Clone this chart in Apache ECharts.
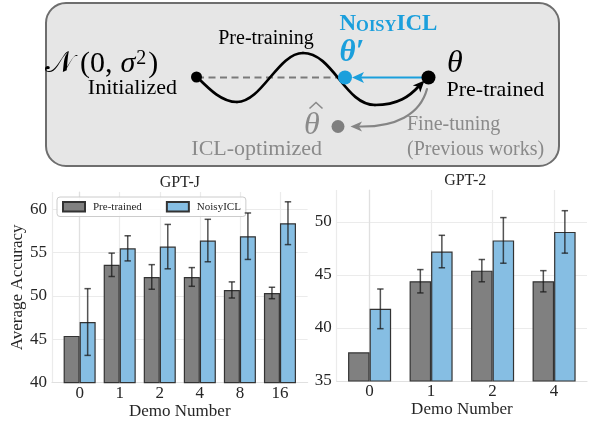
<!DOCTYPE html>
<html>
<head>
<meta charset="utf-8">
<script src="https://cdn.jsdelivr.net/npm/echarts@6/dist/echarts.min.js"></script>
<style>html,body{margin:0;padding:0;background:#fff;}#c{width:590px;height:426px;}</style>
</head>
<body>
<div id="c"></div>
<script>
// ---- data ----
const gptjCats = ['0', '1', '2', '4', '8', '16'];
const gptjPre = [45.4, 53.6, 52.2, 52.2, 50.7, 50.35];
const gptjPreErr = [0, 1.35, 1.42, 1.08, 0.93, 0.66];
const gptjNoisy = [47.0, 55.5, 55.7, 56.4, 56.9, 58.4];
const gptjNoisyErr = [3.85, 1.45, 2.56, 2.45, 2.68, 2.47];

const gpt2Cats = ['0', '1', '2', '4'];
const gpt2Pre = [37.7, 44.4, 45.4, 44.4];
const gpt2PreErr = [0, 1.1, 1.05, 1.0];
const gpt2Noisy = [41.8, 47.2, 48.25, 49.05];
const gpt2NoisyErr = [1.87, 1.53, 2.15, 2.0];

const gptjYTicks = [40, 45, 50, 55, 60];
const gpt2YTicks = [35, 40, 45, 50];
const seriesNames = ['Pre-trained', 'NoisyICL'];

// ---- style ----
const FONT = '"Liberation Serif", "Times New Roman", serif';
const GRAY = '#808080';
const BLUE = '#86bee3';
const EDGE = '#333333';
const TXT = '#262626';
const GRIDC = '#ebebeb';
const SPINE = '#e0e0e0';
const NBLUE = '#1b9fdc';

const chart = echarts.init(document.getElementById('c'), null, {renderer: 'canvas'});

function pairs(arr) { return arr.map((v, i) => [i, v]); }
function triples(arr, err) { return arr.map((v, i) => [i, v, err[i]]); }

function errRenderer(offset) {
  return function (params, api) {
    const x = api.value(0), y = api.value(1), e = api.value(2);
    if (!e) return {type: 'group', children: []};
    const t = api.coord([x + offset, y + e]);
    const b = api.coord([x + offset, y - e]);
    const w = 3.2;
    const st = {stroke: 'rgba(25,25,25,0.75)', lineWidth: 1.5};
    return {type: 'group', children: [
      {type: 'line', shape: {x1: t[0], y1: t[1], x2: b[0], y2: b[1]}, style: st},
      {type: 'line', shape: {x1: t[0] - w, y1: t[1], x2: t[0] + w, y2: t[1]}, style: st},
      {type: 'line', shape: {x1: b[0] - w, y1: b[1], x2: b[0] + w, y2: b[1]}, style: st}
    ]};
  };
}

function xAxisCfg(gi, min, max, split, cats) {
  return {
    type: 'value', gridIndex: gi, min: min, max: max, splitNumber: split,
    minInterval: 1, maxInterval: 1,
    axisLine: {show: true, lineStyle: {color: SPINE, width: 1.2}},
    axisTick: {show: false},
    axisLabel: {
      formatter: v => (Number.isInteger(v) && cats[v] !== undefined) ? cats[v] : '',
      fontSize: 17, fontFamily: FONT, color: TXT, margin: 2
    },
    splitLine: {show: true, showMaxLine: false, lineStyle: {color: GRIDC, width: 1.2}},
    name: 'Demo Number', nameLocation: 'middle', nameGap: 20,
    nameTextStyle: {fontSize: 17, fontFamily: FONT, color: TXT}
  };
}
function yAxisCfg(gi, min, max, ticks, name) {
  return {
    type: 'value', gridIndex: gi, min: min, max: max, interval: 5,
    axisLine: {show: true, lineStyle: {color: SPINE, width: 1.2}},
    axisTick: {show: false},
    axisLabel: {
      formatter: v => ticks.includes(v) ? String(v) : '',
      fontSize: 17, fontFamily: FONT, color: TXT, margin: 5
    },
    splitLine: {show: true, showMaxLine: false, lineStyle: {color: GRIDC, width: 1.2}},
    name: name || '', nameLocation: 'middle', nameGap: 20,
    nameTextStyle: {fontSize: 17, fontFamily: FONT, color: TXT}
  };
}

function barSeries(name, data, gi, color, width) {
  return {
    type: 'bar', name: name, xAxisIndex: gi, yAxisIndex: gi,
    data: pairs(data), barWidth: width, barGap: '0%',
    itemStyle: {color: color, borderColor: EDGE, borderWidth: 1.2},
    emphasis: {disabled: true}, z: 2
  };
}
function errSeries(name, data, err, gi, offset) {
  return {
    type: 'custom', name: name, xAxisIndex: gi, yAxisIndex: gi,
    data: triples(data, err), renderItem: errRenderer(offset),
    encode: {x: 0, y: 1}, z: 5, silent: true
  };
}

const tf = (size, weight, style) => (style || 'normal') + ' ' + (weight || 'normal') + ' ' + size + 'px ' + FONT;
function txt(x, y, text, font, fill, align) {
  return {type: 'text', x: x, y: y, z: 20, style: {
    text: text, font: font, fill: fill,
    align: align || 'left', textAlign: align || 'left',
    verticalAlign: 'middle', textVerticalAlign: 'middle'
  }};
}
function bez(p, stroke, w) {
  return {type: 'bezierCurve', z: 12,
    shape: {x1: p[0], y1: p[1], cpx1: p[2], cpy1: p[3], cpx2: p[4], cpy2: p[5], x2: p[6], y2: p[7]},
    style: {fill: null, stroke: stroke, lineWidth: w, lineCap: 'round'}};
}

const option = {
  animation: false,
  backgroundColor: '#ffffff',
  title: [
    {text: 'GPT-J', left: 179.8, top: 175, textAlign: 'center', padding: 0,
     textStyle: {fontSize: 16, fontWeight: 'normal', fontFamily: FONT, color: TXT}},
    {text: 'GPT-2', left: 465.2, top: 173, textAlign: 'center', padding: 0,
     textStyle: {fontSize: 16, fontWeight: 'normal', fontFamily: FONT, color: TXT}}
  ],
  legend: {
    data: seriesNames, left: 57, top: 197, orient: 'horizontal',
    padding: [4, 5, 4, 5], itemGap: 24, itemWidth: 22, itemHeight: 9.5,
    icon: 'rect', backgroundColor: 'rgba(255,255,255,0.85)',
    borderColor: '#cccccc', borderWidth: 1, borderRadius: 3,
    textStyle: {fontSize: 11, fontFamily: FONT, color: TXT, padding: [0, 0, 0, 3]},
    selectedMode: false
  },
  grid: [
    {left: 52, top: 192, width: 255.6, height: 190.7},
    {left: 336.7, top: 190, width: 257, height: 191}
  ],
  xAxis: [
    xAxisCfg(0, -0.69, 5.69, 6, gptjCats),
    xAxisCfg(1, -0.535, 3.535, 4, gpt2Cats)
  ],
  yAxis: [
    yAxisCfg(0, 40, 62, gptjYTicks, 'Average Accuracy'),
    yAxisCfg(1, 35, 53, gpt2YTicks, '')
  ],
  series: [
    barSeries(seriesNames[0], gptjPre, 0, GRAY, '40%'),
    barSeries(seriesNames[1], gptjNoisy, 0, BLUE, '40%'),
    errSeries('errJ0', gptjPre, gptjPreErr, 0, -0.2),
    errSeries('errJ1', gptjNoisy, gptjNoisyErr, 0, 0.2),
    barSeries(seriesNames[0], gpt2Pre, 1, GRAY, '35%'),
    barSeries(seriesNames[1], gpt2Noisy, 1, BLUE, '35%'),
    errSeries('err20', gpt2Pre, gpt2PreErr, 1, -0.175),
    errSeries('err21', gpt2Noisy, gpt2NoisyErr, 1, 0.175)
  ],
  graphic: [
    {type: 'rect', z: 10, shape: {x: 46, y: 3, width: 513, height: 163, r: 20},
     style: {fill: '#e6e6e6', stroke: '#6e6e6e', lineWidth: 2}},
    {type: 'line', z: 11, shape: {x1: 197, y1: 77.5, x2: 344, y2: 77.5},
     style: {stroke: '#7a7a7a', lineWidth: 2.2, lineDash: [7, 4.5]}},
    bez([197, 77, 210, 90, 222, 102, 237, 102], '#000', 2.7),
    bez([237, 102, 262, 102, 278, 53, 303, 53], '#000', 2.7),
    bez([303, 53, 333, 53, 345, 105, 375, 105], '#000', 2.7),
    bez([375, 105, 398, 105, 410, 96, 419, 86], '#000', 2.7),
    {type: 'polygon', z: 12, shape: {points: [[424.5, 80.5], [420.2, 92.4], [418.6, 86.8], [412.8, 85.6]]},
     style: {fill: '#000'}},
    {type: 'line', z: 12, shape: {x1: 424, y1: 77.5, x2: 361, y2: 77.5},
     style: {stroke: NBLUE, lineWidth: 2.2}},
    {type: 'polygon', z: 13, shape: {points: [[352, 77.5], [364, 72], [361, 77.5], [364, 83]]},
     style: {fill: NBLUE}},
    bez([427, 89, 420, 115, 395, 127, 360, 126.5], '#858585', 2.2),
    {type: 'polygon', z: 13, shape: {points: [[350.5, 126.5], [362, 121.5], [359, 126.5], [362, 131.5]]},
     style: {fill: '#858585'}},
    {type: 'circle', z: 14, shape: {cx: 196.5, cy: 77, r: 5.5}, style: {fill: '#000'}},
    {type: 'circle', z: 14, shape: {cx: 345, cy: 77.5, r: 7}, style: {fill: NBLUE}},
    {type: 'circle', z: 14, shape: {cx: 428.5, cy: 77.5, r: 7}, style: {fill: '#000'}},
    {type: 'circle', z: 14, shape: {cx: 338, cy: 126.5, r: 6.5}, style: {fill: '#7f7f7f'}},
    {type: 'text', x: 45, y: 64, z: 20, style: {
      text: '{m|\u{1D4A9}\u2009(0,\u2009}{i|\u03C3}{s|2}{m|)}',
      verticalAlign: 'middle', textVerticalAlign: 'middle',
      rich: {
        m: {fontSize: 30, fontFamily: FONT, fill: '#000', color: '#000', verticalAlign: 'bottom'},
        i: {fontSize: 30, fontFamily: FONT, fontStyle: 'italic', fill: '#000', color: '#000', verticalAlign: 'bottom', padding: [0, 1, 0, 2]},
        s: {fontSize: 20, fontFamily: FONT, fill: '#000', color: '#000', verticalAlign: 'top', padding: [0, 2, 0, 0]}
      }
    }},
    txt(177, 88.5, 'Initialized', tf(22), '#000', 'right'),
    txt(266, 38.5, 'Pre-training', tf(20), '#000', 'center'),
    txt(256.7, 149.5, 'ICL-optimized', tf(22), '#8a8a8a', 'center'),
    txt(407, 125, 'Fine-tuning', tf(20), '#8a8a8a'),
    txt(407, 150, '(Previous works)', tf(20), '#8a8a8a'),
    txt(446.5, 90, 'Pre-trained', tf(22), '#000'),
    txt(447, 63.5, '\u03B8', tf(32, 'normal', 'italic'), '#000'),
    txt(339.5, 52.5, '\u03B8\u2032', tf(31, 'bold', 'italic'), NBLUE),
    txt(304, 125.5, '\u03B8', tf(32, 'normal', 'italic'), '#8a8a8a'),
    {type: 'polyline', z: 20, shape: {points: [[309.5, 108.5], [316, 102.5], [322.5, 108.5]]},
     style: {fill: null, stroke: '#8a8a8a', lineWidth: 1.6}},
    {type: 'text', x: 339.5, y: 24, z: 20, style: {
      text: '{a|N}{b|OISY}{a|ICL}', verticalAlign: 'middle', textVerticalAlign: 'middle',
      rich: {
        a: {fontSize: 23, fontWeight: 'bold', fontFamily: FONT, fill: NBLUE, color: NBLUE, verticalAlign: 'bottom'},
        b: {fontSize: 16.5, fontWeight: 'bold', fontFamily: FONT, fill: NBLUE, color: NBLUE, verticalAlign: 'bottom'}
      }
    }}
  ]
};
chart.setOption(option);
</script>
</body>
</html>
